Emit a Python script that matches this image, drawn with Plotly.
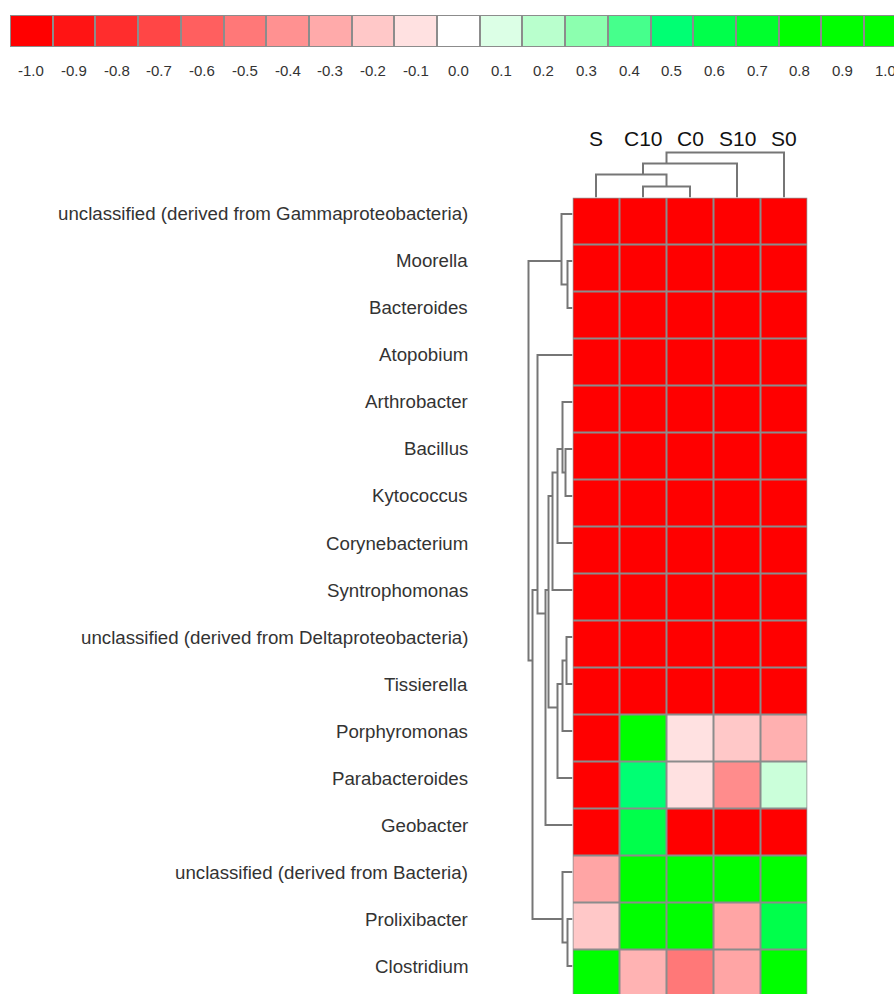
import plotly.graph_objects as go

# ---------------- data ----------------
row_labels = [
    "unclassified (derived from Gammaproteobacteria)",
    "Moorella",
    "Bacteroides",
    "Atopobium",
    "Arthrobacter",
    "Bacillus",
    "Kytococcus",
    "Corynebacterium",
    "Syntrophomonas",
    "unclassified (derived from Deltaproteobacteria)",
    "Tissierella",
    "Porphyromonas",
    "Parabacteroides",
    "Geobacter",
    "unclassified (derived from Bacteria)",
    "Prolixibacter",
    "Clostridium",
]
col_labels = ["S", "C10", "C0", "S10", "S0"]

values = [
    [-1.0, -1.0, -1.0, -1.0, -1.0],
    [-1.0, -1.0, -1.0, -1.0, -1.0],
    [-1.0, -1.0, -1.0, -1.0, -1.0],
    [-1.0, -1.0, -1.0, -1.0, -1.0],
    [-1.0, -1.0, -1.0, -1.0, -1.0],
    [-1.0, -1.0, -1.0, -1.0, -1.0],
    [-1.0, -1.0, -1.0, -1.0, -1.0],
    [-1.0, -1.0, -1.0, -1.0, -1.0],
    [-1.0, -1.0, -1.0, -1.0, -1.0],
    [-1.0, -1.0, -1.0, -1.0, -1.0],
    [-1.0, -1.0, -1.0, -1.0, -1.0],
    [-1.0, 0.9, -0.1, -0.2, -0.28],
    [-1.0, 0.5, -0.1, -0.42, 0.15],
    [-1.0, 0.6, -1.0, -1.0, -1.0],
    [-0.32, 1.0, 1.0, 1.0, 1.0],
    [-0.2, 1.0, 1.0, -0.32, 0.6],
    [1.0, -0.27, -0.5, -0.32, 1.0],
]

legend_values = [-1.0, -0.9, -0.8, -0.7, -0.6, -0.5, -0.4, -0.3, -0.2, -0.1, 0.0,
                 0.1, 0.2, 0.3, 0.4, 0.5, 0.6, 0.7, 0.8, 0.9, 1.0]
legend_labels = ["%.1f" % v for v in legend_values]

# colours of the legend boxes (one per legend value)
legend_colors = [
    "#ff0000", "#ff1414", "#ff2d2d", "#ff4646", "#ff5f5f", "#ff7878", "#ff9191",
    "#ffaaaa", "#ffc8c8", "#ffe1e1", "#ffffff", "#dcffe6", "#b9ffcd", "#8cffaf",
    "#46ff8c", "#00ff73", "#00ff4b", "#00ff2d", "#00ff00", "#00ff00", "#00ff00",
]

# hierarchical merges: (left, right, height); indices >= n refer to earlier merges
col_merges = [(1, 2, 11), (0, 5, 23), (6, 3, 34), (7, 4, 45)]
row_merges = [
    (1, 2, 5), (0, 17, 11),
    (5, 6, 7), (4, 19, 10), (20, 7, 15), (21, 8, 20),
    (9, 10, 6), (23, 11, 10), (24, 12, 15),
    (22, 25, 24), (26, 13, 27), (3, 27, 35),
    (15, 16, 5), (14, 29, 10),
    (28, 30, 40), (18, 31, 44),
]

# ---------------- helpers ----------------
W, H = 894, 994


def px(x):
    return x / W


def py(y):
    return 1 - y / H


def dendro_lines(n, merges):
    """Node position = mean of member leaf positions."""
    members = {i: [i] for i in range(n)}
    height = {i: 0.0 for i in range(n)}
    pos_a, hgt_a = [], []
    for k, (a, b, h) in enumerate(merges):
        node = n + k
        members[node] = members[a] + members[b]
        height[node] = h
        pa = sum(members[a]) / len(members[a])
        pb = sum(members[b]) / len(members[b])
        pos_a += [pa, pa, pb, pb, None]
        hgt_a += [height[a], h, h, height[b], None]
    return pos_a, hgt_a


colorscale = [[(v + 1) / 2, c] for v, c in zip(legend_values, legend_colors)]

nrows, ncols = len(row_labels), len(col_labels)
cell = 47.0
hm_left, hm_top = 572.5, 197.5
hm_right = hm_left + ncols * cell
visible_rows = (H - hm_top) / cell
row_shift = 7  # dendrogram / labels sit slightly above row centres

gap_col = "#8c8c8c"
line_col = "#767676"

fig = go.Figure()

# main heatmap
fig.add_trace(go.Heatmap(
    z=values, x=list(range(ncols)), y=list(range(nrows)),
    colorscale=colorscale, zmin=-1, zmax=1, showscale=False,
    xgap=2, ygap=2, xaxis="x", yaxis="y", hoverinfo="skip",
))

# legend bar
leg_x = list(range(len(legend_values)))
fig.add_trace(go.Heatmap(
    z=[legend_values], x=leg_x, y=[0],
    colorscale=colorscale, zmin=-1, zmax=1, showscale=False,
    xgap=2, ygap=2, xaxis="x2", yaxis="y2", hoverinfo="skip",
))

# column dendrogram
cx, ch = dendro_lines(ncols, col_merges)
fig.add_trace(go.Scatter(x=cx, y=ch, mode="lines", xaxis="x3", yaxis="y3",
                         line=dict(color=line_col, width=2), hoverinfo="skip"))

# row dendrogram
ry, rh = dendro_lines(nrows, row_merges)
fig.add_trace(go.Scatter(x=rh, y=ry, mode="lines", xaxis="x4", yaxis="y4",
                         line=dict(color=line_col, width=2), hoverinfo="skip"))

# gray backgrounds behind gapped heatmaps
fig.add_shape(type="rect", xref="x", yref="y", x0=-0.5, x1=ncols - 0.5,
              y0=-0.5, y1=nrows - 0.5, fillcolor=gap_col, line_width=0, layer="below")
fig.add_shape(type="rect", xref="x2", yref="y2", x0=-0.5, x1=len(legend_values) - 0.5,
              y0=-0.5, y1=0.5, fillcolor=gap_col, line_width=0, layer="below")

ann = []
for i, lab in enumerate(row_labels):
    ann.append(dict(x=px(470), xref="paper", xanchor="right", y=i, yref="y4",
                    text=lab, showarrow=False,
                    font=dict(family="Liberation Sans, Arial", size=18.7, color="#333333")))
for j, lab in enumerate(col_labels):
    ann.append(dict(x=j, xref="x", y=py(138), yref="paper", yanchor="middle",
                    text=lab, showarrow=False,
                    font=dict(family="Liberation Sans, Arial", size=21, color="#111111")))
for k, lab in zip(leg_x, legend_labels):
    ann.append(dict(x=k, xref="x2", y=py(70), yref="paper", yanchor="middle",
                    xanchor="center", text=lab, showarrow=False,
                    font=dict(family="Liberation Sans, Arial", size=15, color="#333333")))

noax = dict(showgrid=False, zeroline=False, showticklabels=False, ticks="",
            showline=False, fixedrange=True)

leg_w = 42.7
leg_left = 10

fig.update_layout(
    width=W, height=H, margin=dict(l=0, r=0, t=0, b=0),
    paper_bgcolor="white", plot_bgcolor="white", showlegend=False,
    xaxis=dict(domain=[px(hm_left), px(hm_right)], range=[-0.5, ncols - 0.5], anchor="y", **noax),
    yaxis=dict(domain=[0, py(hm_top)], range=[visible_rows - 0.5, -0.5], anchor="x", **noax),
    xaxis2=dict(domain=[px(leg_left), 1], range=[-0.5, (W - leg_left) / leg_w - 0.5],
                anchor="y2", **noax),
    yaxis2=dict(domain=[py(47), py(15)], range=[-0.5, 0.5], anchor="x2", **noax),
    xaxis3=dict(domain=[px(hm_left), px(hm_right)], range=[-0.5, ncols - 0.5], anchor="y3", **noax),
    yaxis3=dict(domain=[py(hm_top), py(hm_top - 47.5)], range=[0, 47.5], anchor="x3", **noax),
    xaxis4=dict(domain=[px(hm_left - 50), px(hm_left)], range=[50, 0], anchor="y4", **noax),
    yaxis4=dict(domain=[row_shift / H, py(hm_top - row_shift)],
                range=[visible_rows - 0.5, -0.5], anchor="x4", **noax),
    annotations=ann,
)

fig.write_html("out.html", config={"displayModeBar": False},
               post_script="document.body.style.margin='0';document.body.style.overflow='hidden';")
